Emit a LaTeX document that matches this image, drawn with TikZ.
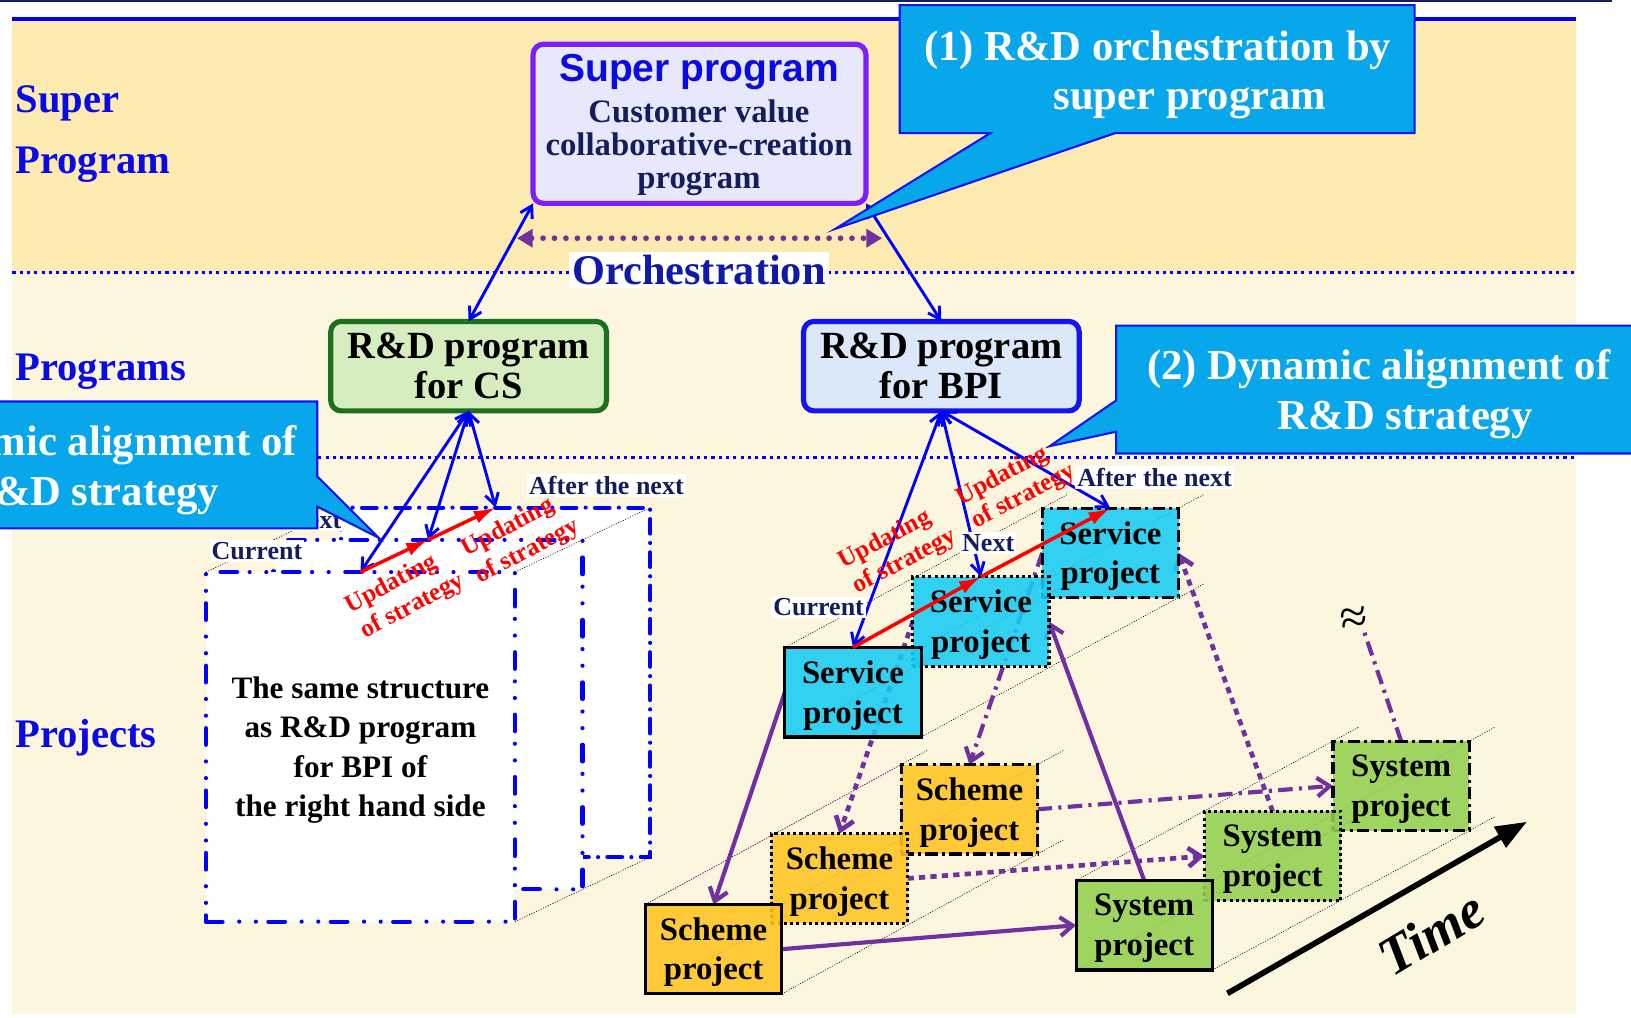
\documentclass[tikz,border=0pt]{standalone}
\usepackage{fontspec}
\setmainfont{Liberation Serif}
\newfontfamily\headsans{Liberation Sans}
\usetikzlibrary{arrows.meta,calc}
\newcommand\fsz[2]{\fontsize{#1}{#2}\selectfont}

\pgfdeclarelayer{ground}
\pgfdeclarelayer{under}
\pgfsetlayers{ground,under,main}

\definecolor{bandblue}{RGB}{10,10,230}
\definecolor{navyink}{RGB}{20,30,90}
\definecolor{orchblue}{RGB}{15,25,170}
\definecolor{linkblue}{RGB}{0,0,255}
\definecolor{rdpurple}{RGB}{112,48,160}
\definecolor{supviolet}{RGB}{125,30,255}
\definecolor{supfill}{RGB}{232,232,252}
\definecolor{csgreen}{RGB}{30,110,30}
\definecolor{csfill}{RGB}{214,237,192}
\definecolor{bpiblue}{RGB}{20,20,240}
\definecolor{bpifill}{RGB}{218,232,250}
\definecolor{callfill}{RGB}{8,166,234}
\definecolor{callline}{RGB}{20,20,240}
\definecolor{svccyan}{RGB}{24,204,244}
\definecolor{schorange}{RGB}{255,196,32}
\definecolor{sysgreen}{RGB}{146,208,80}
\definecolor{bandtop}{RGB}{252,234,176}
\definecolor{bandlow}{RGB}{253,246,222}

\begin{document}
\begin{tikzpicture}[x=1pt,y=-1pt,
  every node/.style={inner sep=0pt,outer sep=0pt},
  bandlabel/.style={anchor=base west,text=bandblue,font=\bfseries\fsz{39}{44}},
  progbox/.style={line width=5pt,rounded corners=10pt,minimum width=265pt,minimum height=86pt,align=center,font=\bfseries\fsz{37}{38}},
  stackframe/.style={draw=linkblue,line width=4pt,fill=white,line cap=round,minimum width=297pt,minimum height=336pt},
  dashdotdot/.style={dash pattern=on 16pt off 16pt on 0pt off 16pt on 0pt off 12pt},
  dashdotb/.style={dash pattern=on 14pt off 9pt on 0pt off 9pt},
  projbox/.style={draw=black,line width=3pt,minimum width=131pt,minimum height=86pt,fill opacity=0.88},
  projtext/.style={align=center,font=\bfseries\fsz{31.5}{38},yshift=-3pt},
  dotborder/.style={dash pattern=on 3pt off 3pt},
  dashdotborder/.style={dash pattern=on 12pt off 4pt on 3pt off 4pt},
  persp/.style={draw=black,line width=0.6pt,dash pattern=on 1pt off 1.5pt},
  bluelink/.style={draw=linkblue,line width=2.8pt,{Straight Barb[length=11pt,width=13pt]}-{Straight Barb[length=11pt,width=13pt]}},
  redlink/.style={draw=red,line width=3.4pt,-{Latex[length=21pt,width=13pt]}},
  curlink/.style={draw=rdpurple,line width=4pt,-{Straight Barb[length=12pt,width=18pt]}},
  nextlink/.style={draw=rdpurple,line width=4.5pt,dash pattern=on 6pt off 5pt,-{Straight Barb[length=12pt,width=18pt]}},
  afterlink/.style={draw=rdpurple,line width=4pt,dash pattern=on 14pt off 6pt on 3pt off 6pt,-{Straight Barb[length=12pt,width=18pt]}},
  stagelabel/.style={fill=white,text=navyink,font=\bfseries\fsz{25}{25},inner xsep=2pt,inner ysep=2pt},
  upd/.style={text=red,font=\bfseries\fsz{24}{24},rotate=28},
  callout/.style={draw=callline,line width=2pt,fill=callfill},
  calltext/.style={text=white,font=\bfseries\fsz{41}{41}}
]
\path[use as bounding box] (0,0) rectangle (1568,978);
\clip (0,0) rectangle (1568,978);

% ---------- background bands and rules ----------
\begin{pgfonlayer}{ground}
  \fill[white] (0,0) rectangle (1568,978);
  \fill[bandtop] (12,20) rectangle (1515,262);
  \fill[bandlow] (12,262) rectangle (1515,975);
  \draw[navyink,line width=1.5pt] (0,1) -- (1550,1);
  \draw[linkblue,line width=4pt] (12,18) -- (1515,18);
  \draw[linkblue,line width=2.5pt,dash pattern=on 3pt off 4pt] (12,262) -- (1515,262);
  \draw[linkblue,line width=2.5pt,dash pattern=on 3pt off 4pt] (12,440) -- (1515,440);
\end{pgfonlayer}

% ---------- level labels ----------
\node[bandlabel] (lblSuper) at (15,108) {Super};
\node[bandlabel] (lblProgram) at (15,167) {Program};
\node[bandlabel] (lblPrograms) at (15,366) {Programs};
\node[bandlabel] (lblProjects) at (15,719) {Projects};

% ---------- super program and programs ----------
\node[draw=supviolet,line width=5pt,rounded corners=10pt,fill=supfill,minimum width=320pt,minimum height=153pt] (super) at (672.5,119) {};
\node[font=\headsans\bfseries\fsz{37.5}{40},text=bandblue] (superTitle) at (672,69) {Super program};
\node[font=\bfseries\fsz{31.5}{31.5},text=navyink,align=center] (superBody) at (672,142) {Customer value\\collaborative-creation\\program};

\node[progbox,draw=csgreen,fill=csfill] (cs) at (450.5,352) {R\&D program\\for CS};
\node[progbox,draw=bpiblue,fill=bpifill] (bpi) at (905,352) {R\&D program\\for BPI};

% orchestration between the programs
\coordinate (orchL) at (497,229);
\coordinate (orchR) at (848,229);
\draw[rdpurple,line width=5.5pt,line cap=round,dash pattern=on 0pt off 11pt,{Triangle[length=15pt,width=17pt]}-{Triangle[length=15pt,width=17pt]}] (orchL) -- (orchR);
\node[fill=white,text=orchblue,font=\bfseries\fsz{40.7}{44},inner xsep=3pt,inner ysep=3pt] (orch) at (672,260) {Orchestration};

\draw[bluelink] (super.south west) -- (cs.north);
\draw[bluelink] (super.south east) -- (bpi.north);

% ---------- CS side: stacked project frames ----------
\node[stackframe,dashdotb] (fr3) at (476.5,656) {};
\node[stackframe,dashdotdot] (fr2) at (411.5,687) {};
\node[stackframe,dashdotdot,label={[align=center,font=\bfseries\fsz{30}{38},yshift=-3pt]center:The same structure\\as R\&D program\\for BPI of\\the right hand side}] (fr1) at (346.5,718) {};
\foreach \c in {north west,north east,south east}
  \draw[persp] (fr1.\c) -- (fr3.\c);

% ---------- BPI side: projects ----------
\node[projbox,dashdotborder,fill=svccyan,label={[projtext]center:Service\\project}] (svc3) at (1067.5,531.5) {};
\node[projbox,dotborder,fill=svccyan,label={[projtext]center:Service\\project}] (svc2) at (943,597.5) {};
\node[projbox,fill=svccyan,label={[projtext]center:Service\\project}] (svc1) at (820,665.5) {};
\node[projbox,dashdotborder,fill=schorange,label={[projtext]center:Scheme\\project}] (sch3) at (932,778) {};
\node[projbox,dotborder,fill=schorange,label={[projtext]center:Scheme\\project}] (sch2) at (807,844.5) {};
\node[projbox,fill=schorange,label={[projtext]center:Scheme\\project}] (sch1) at (686,912.5) {};
\node[projbox,dashdotborder,fill=sysgreen,label={[projtext]center:System\\project}] (sys3) at (1347,755.5) {};
\node[projbox,dotborder,fill=sysgreen,label={[projtext]center:System\\project}] (sys2) at (1223.5,823) {};
\node[projbox,fill=sysgreen,label={[projtext]center:System\\project}] (sys1) at (1100,889.5) {};

\node[font=\fsz{48}{48},rotate=8] (approx) at (1302,597) {\symbol{"2248}};
\coordinate (approxEnd) at (1311,606);

\begin{pgfonlayer}{under}
  % depth guides through the corners of each row
  \foreach \f/\b in {svc1/svc3,sch1/sch3,sys1/sys3}
    \foreach \c in {north west,north east,south west,south east}
      \draw[persp] (\f.\c) -- ($(\f.\c)!1.1!(\b.\c)$);
  \draw[persp,draw=rdpurple] (sch1.north west) -- (sch3.north west);
  % project cycles
  \draw[curlink] (svc1.west) -- (sch1.north);
  \draw[curlink] (sch1.east) -- (sys1.west);
  \draw[curlink] (sys1.north) -- (svc2.east);
  \draw[nextlink] (svc2.west) -- (sch2.north);
  \draw[nextlink] (sch2.east) -- (sys2.west);
  \draw[nextlink] (sys2.north) -- (svc3.east);
  \draw[afterlink] (svc3.west) -- (sch3.north);
  \draw[afterlink] (sch3.east) -- (sys3.west);
  \draw[afterlink,-] (sys3.north) -- (approxEnd);
\end{pgfonlayer}

% ---------- strategy links ----------
\draw[bluelink] (cs.south) -- (fr1.north);
\draw[bluelink] (cs.south) -- (fr2.north);
\draw[bluelink] (cs.south) -- (fr3.north);
\draw[redlink] (fr1.north) -- (fr2.north);
\draw[redlink] (fr2.north) -- (fr3.north);

\draw[bluelink] (bpi.south) -- (svc1.north);
\draw[bluelink] (bpi.south) -- (svc2.north);
\draw[bluelink] (bpi.south) -- (svc3.north);
\draw[redlink] (svc1.north) -- (svc2.north);
\draw[redlink] (svc2.north) -- (svc3.north);

\node[stagelabel] (curL) at (247,530) {Current};
\node[stagelabel] (nextL) at (303,500) {Next};
\node[stagelabel] (aftL) at (583,467) {After the next};
\node[stagelabel] (curR) at (787,584) {Current};
\node[stagelabel] (nextR) at (950,522) {Next};
\node[stagelabel] (aftR) at (1110,459) {After the next};

\node[upd] (updL1a) at (376.5,562) {Updating};
\node[upd] (updL1b) at (397,583) {of strategy};
\node[upd] (updL2a) at (488.6,507.7) {Updating};
\node[upd] (updL2b) at (507.6,530.4) {of strategy};
\node[upd] (updR1a) at (851,519) {Updating};
\node[upd] (updR1b) at (870,540) {of strategy};
\node[upd] (updR2a) at (964,458) {Updating};
\node[upd] (updR2b) at (984,477.5) {of strategy};

% ---------- time axis ----------
\coordinate (timeA) at (1180,955);
\coordinate (timeB) at (1468,790);
\draw[black,line width=5.5pt,-{Triangle[length=30pt,width=22pt]}] (timeA) -- (timeB);
\node[rotate=31,font=\bfseries\itshape\fsz{52}{52}] (timeLbl) at (1376,897) {Time};

% ---------- callouts ----------
\draw[callout] (865,5) -- (1360,5) -- (1360,128) -- (1072,128) -- (803,220) -- (952,128) -- (865,128) -- cycle;
\node[calltext] (call1a) at (1113,48) {(1) R\&D orchestration by};
\node[calltext] (call1b) at (1144,99) {super program};

\draw[callout] (1073,313) -- (1580,313) -- (1580,436) -- (1073,436) -- (1073,415) -- (1009,429) -- (1073,385) -- cycle;
\node[calltext] (call2a) at (1325.5,355) {(2) Dynamic alignment of};
\node[calltext] (call2b) at (1351,404) {R\&D strategy};

\draw[callout] (-190,386) -- (305,386) -- (305,458) -- (364,517) -- (305,487) -- (305,508) -- (-190,508) -- cycle;
\node[calltext] (call3a) at (62.5,428) {(2) Dynamic alignment of};
\node[calltext] (call3b) at (88,477) {R\&D strategy};
\end{tikzpicture}
\end{document}
